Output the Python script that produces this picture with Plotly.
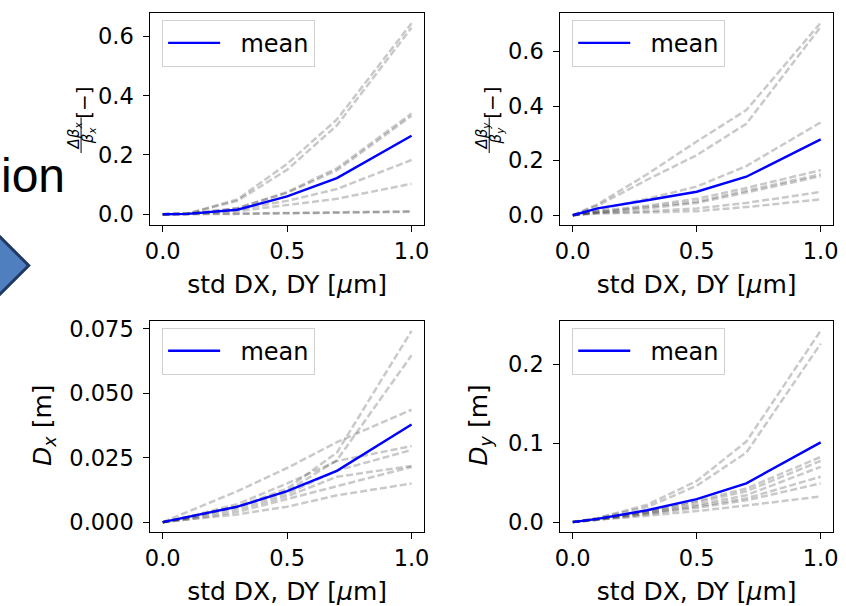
import plotly.graph_objects as go

W, H = 846, 606

# ---------------- data ----------------
std_dxdy = [0.0, 0.1, 0.3, 0.5, 0.7, 1.0]

# relative beta-beat x
betax_runs = [
    [0, 0.002, 0.050, 0.170, 0.320, 0.645],
    [0, 0.002, 0.045, 0.150, 0.300, 0.630],
    [0, 0.001, 0.020, 0.075, 0.155, 0.340],
    [0, 0.001, 0.020, 0.072, 0.148, 0.332],
    [0, 0.001, 0.015, 0.045, 0.085, 0.183],
    [0, 0.001, 0.010, 0.030, 0.052, 0.103],
    [0, 0.000, 0.002, 0.004, 0.006, 0.010],
    [0, 0.000, 0.001, 0.003, 0.005, 0.008],
]
betax_mean = [0, 0.001, 0.015, 0.060, 0.122, 0.265]

# relative beta-beat y
betay_runs = [
    [0, 0.040, 0.150, 0.270, 0.385, 0.705],
    [0, 0.035, 0.130, 0.220, 0.335, 0.690],
    [0, 0.020, 0.060, 0.105, 0.180, 0.340],
    [0, 0.015, 0.035, 0.060, 0.100, 0.165],
    [0, 0.012, 0.030, 0.050, 0.090, 0.150],
    [0, 0.010, 0.025, 0.045, 0.083, 0.143],
    [0, 0.008, 0.015, 0.025, 0.045, 0.085],
    [0, 0.006, 0.010, 0.015, 0.030, 0.058],
]
betay_mean = [0, 0.025, 0.055, 0.086, 0.141, 0.278]

# horizontal dispersion [m]
dx_runs = [
    [0, 0.0020, 0.0060, 0.0130, 0.0270, 0.0742],
    [0, 0.0020, 0.0060, 0.0120, 0.0240, 0.0647],
    [0, 0.0040, 0.0120, 0.0210, 0.0310, 0.0436],
    [0, 0.0020, 0.0070, 0.0150, 0.0237, 0.0295],
    [0, 0.0015, 0.0060, 0.0110, 0.0200, 0.0280],
    [0, 0.0015, 0.0050, 0.0100, 0.0176, 0.0218],
    [0, 0.0010, 0.0040, 0.0090, 0.0137, 0.0214],
    [0, 0.0010, 0.0030, 0.0060, 0.0104, 0.0150],
]
dx_mean = [0, 0.0020, 0.0060, 0.0120, 0.0199, 0.0379]

# vertical dispersion [m]
dy_runs = [
    [0, 0.005, 0.022, 0.052, 0.102, 0.2425],
    [0, 0.005, 0.019, 0.046, 0.088, 0.2260],
    [0, 0.004, 0.014, 0.027, 0.0425, 0.0825],
    [0, 0.004, 0.013, 0.025, 0.039, 0.0775],
    [0, 0.004, 0.012, 0.022, 0.034, 0.0700],
    [0, 0.003, 0.011, 0.020, 0.030, 0.0575],
    [0, 0.003, 0.010, 0.018, 0.0275, 0.0490],
    [0, 0.003, 0.008, 0.014, 0.021, 0.0325],
]
dy_mean = [0, 0.004, 0.015, 0.029, 0.049, 0.101]

x_ticks = [0.0, 0.5, 1.0]
xlabel = "std DX, DY [<i>μ</i>m]"

# ---------------- layout helpers ----------------
def px(x):
    return x / W

def py(y):
    return 1 - y / H

FONT = "DejaVu Sans"
TICKSIZE = 22.5
LABELSIZE = 25
LEGSIZE = 24

panels = [
    # (runs, mean, axis suffix, xdomain px, ydomain px, yrange, dtick, fmt, legend)
    (betax_runs, betax_mean, "", (147, 424), (8, 223), [-0.0367, 0.68], 0.2, ".1f", "legend"),
    (betay_runs, betay_mean, "2", (562, 838), (8, 223), [-0.036, 0.741], 0.2, ".1f", "legend2"),
    (dx_runs, dx_mean, "3", (147, 424), (320, 534), [-0.0038, 0.0781], 0.025, ".3f", "legend3"),
    (dy_runs, dy_mean, "4", (562, 838), (320, 534), [-0.0125, 0.255], 0.1, ".1f", "legend4"),
]

fig = go.Figure()
layout = dict(
    width=W, height=H,
    margin=dict(l=0, r=0, t=0, b=0),
    paper_bgcolor="white", plot_bgcolor="white",
    font=dict(family=FONT, color="black", size=TICKSIZE),
    showlegend=True,
)

for runs, mean, sfx, xd, yd, yr, dt, fmt, leg in panels:
    xa = "x" + sfx
    ya = "y" + sfx
    for r in runs:
        fig.add_trace(go.Scatter(
            x=std_dxdy, y=r, mode="lines", xaxis=xa, yaxis=ya,
            line=dict(color="rgba(0,0,0,0.21)", width=2.5, dash="7px,3px"),
            showlegend=False, hoverinfo="skip",
        ))
    fig.add_trace(go.Scatter(
        x=std_dxdy, y=mean, mode="lines", xaxis=xa, yaxis=ya,
        line=dict(color="#0000ff", width=2.4), name="\u00a0\u00a0mean", legend=leg,
    ))
    axcommon = dict(
        showline=True, mirror=True, linecolor="black", linewidth=1,
        ticks="outside", ticklen=6, tickcolor="black", tickwidth=1,
        showgrid=False, zeroline=False,
        tickfont=dict(family=FONT, size=TICKSIZE, color="black"),
    )
    layout["xaxis" + sfx] = dict(
        axcommon, domain=[px(xd[0]), px(xd[1])], range=[-0.05, 1.05],
        tickvals=x_ticks, tickformat=".1f", anchor=ya, ticklabelstandoff=0,
        title=dict(text=xlabel, font=dict(family=FONT, size=LABELSIZE, color="black"), standoff=12),
    )
    layout["yaxis" + sfx] = dict(
        axcommon, domain=[py(yd[1]), py(yd[0])], range=yr,
        dtick=dt, tick0=0, tickformat=fmt, anchor=xa, ticklabelstandoff=5,
    )
    layout[leg] = dict(
        x=px(xd[0] + 12), y=py(yd[0] + 7), xanchor="left", yanchor="top",
        bgcolor="rgba(255,255,255,0.8)", bordercolor="#d0d0d0", borderwidth=1,
        font=dict(family=FONT, size=LEGSIZE, color="black"), itemwidth=52,
    )

annotations = []
shapes = []

# y-axis titles for beta-beat panels (stacked fraction, rotated)
for (cx, cy, sub) in [(77, 132, "x"), (490, 132, "y")]:
    annotations.append(dict(
        text=f"<i>Δβ<sub>{sub}</sub></i>", x=px(cx - 7), y=py(cy), xref="paper", yref="paper",
        showarrow=False, textangle=-90, font=dict(family=FONT, size=15, color="black"),
        xanchor="center", yanchor="middle"))
    annotations.append(dict(
        text=f"<i>β<sub>{sub}</sub></i>", x=px(cx + 7), y=py(cy), xref="paper", yref="paper",
        showarrow=False, textangle=-90, font=dict(family=FONT, size=15, color="black"),
        xanchor="center", yanchor="middle"))
    shapes.append(dict(type="line", xref="paper", yref="paper",
                       x0=px(cx), x1=px(cx), y0=py(cy - 18), y1=py(cy + 18),
                       line=dict(color="black", width=1)))
    annotations.append(dict(
        text="[−]", x=px(cx + 3), y=py(cy - 33), xref="paper", yref="paper",
        showarrow=False, textangle=-90, font=dict(family=FONT, size=20, color="black"),
        xanchor="center", yanchor="middle"))

# y-axis titles for dispersion panels
for (cx, sub) in [(40, "x"), (481, "y")]:
    annotations.append(dict(
        text=f"<i>D<sub>{sub}</sub></i> [m]", x=px(cx), y=py(426), xref="paper", yref="paper",
        showarrow=False, textangle=-90, font=dict(family=FONT, size=LABELSIZE, color="black"),
        xanchor="center", yanchor="middle"))

# cut-off slide text and arrow on the left edge
annotations.append(dict(
    text="ion", x=px(63), y=py(202), xref="paper", yref="paper", showarrow=False,
    xanchor="right", yanchor="bottom", font=dict(family="Liberation Sans", size=48, color="black")))
shapes.append(dict(type="path", xref="paper", yref="paper",
                   path=f"M {px(-12)},{py(228)} L {px(24)},{py(264)} L {px(-12)},{py(300)} Z",
                   fillcolor="#4f7fbf", line=dict(color="#1f3864", width=3)))

layout["annotations"] = annotations
layout["shapes"] = shapes
fig.update_layout(**layout)

fig.write_html("out.html", config={"displayModeBar": False},
               post_script="document.body.style.margin='0';document.body.style.overflow='hidden';")
